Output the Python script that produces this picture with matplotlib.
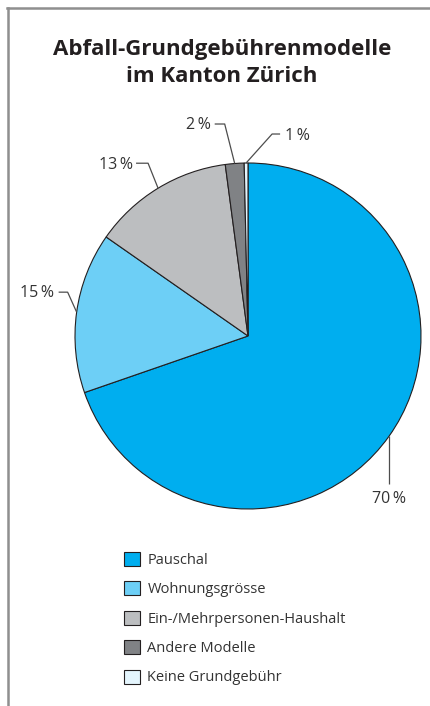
import numpy as np
import matplotlib
matplotlib.use("Agg")
import matplotlib.pyplot as plt
from matplotlib.lines import Line2D

plt.rcParams['font.family'] = ['Open Sans', 'DejaVu Sans']

# ── Data ──────────────────────────────────────────────────────────────────────
categories = ['Pauschal', 'Wohnungsgrösse', 'Ein-/Mehrpersonen-Haushalt',
              'Andere Modelle', 'Keine Grundgebühr']
shares = [69.7, 15.0, 13.2, 1.75, 0.35]
value_labels = ['70\u2009%', '15\u2009%', '13\u2009%', '2\u2009%', '1\u2009%']
colors = ['#00aeef', '#6dcff6', '#bcbec0', '#808285', '#e4f5fd']

title = 'Abfall-Grundgebührenmodelle\nim Kanton Zürich'

# leader line layout, in pixels relative to the wedge edge point (x right, y up)
# (elbow, end, text anchor, ha)
R_PX = 173.0
leaders = [
    ((0, -48), (0, -48), (0, -63), 'center'),
    ((-9, 20), (-18, 20), (-23, 19), 'right'),
    ((-10, 25), (-22, 25), (-25, 23), 'right'),
    ((-10, 39.5), (-20, 39.5), (-24, 38.5), 'right'),
    ((26, 29), (34, 29), (39, 27), 'left'),
]

W, H = 430, 706
fig = plt.figure(figsize=(W / 100, H / 100), dpi=100)

# pie axes: center (248, 336) px, radius 173 px
cx, cy = 248, 336
ax = fig.add_axes([(cx - R_PX) / W, (H - cy - R_PX) / H, 2 * R_PX / W, 2 * R_PX / H])
wedges, _ = ax.pie(shares, colors=colors, startangle=90, counterclock=False,
                   radius=1.0,
                   wedgeprops=dict(edgecolor='#231f20', linewidth=0.8))
ax.set_xlim(-1, 1)
ax.set_ylim(-1, 1)
ax.set_aspect('equal')
ax.axis('off')

for w, lab, (elb, end, txt, ha) in zip(wedges, value_labels, leaders):
    ang = np.deg2rad((w.theta1 + w.theta2) / 2)
    x0, y0 = np.cos(ang), np.sin(ang)
    xs = [x0, x0 + elb[0] / R_PX, x0 + end[0] / R_PX]
    ys = [y0, y0 + elb[1] / R_PX, y0 + end[1] / R_PX]
    ax.plot(xs, ys, color='#4d4d4d', lw=0.9, clip_on=False, solid_capstyle='butt')
    ax.text(x0 + txt[0] / R_PX, y0 + txt[1] / R_PX, lab, ha=ha, va='center',
            fontsize=11.5, color='#333333', clip_on=False)

fig.text(222 / W, 1 - 63 / H, title, ha='center', va='center', fontsize=16,
         fontweight='bold', color='#231f20', linespacing=1.4)

leg = fig.legend(wedges, categories, loc='upper left',
                 bbox_to_anchor=(124 / W, 1 - 552 / H), frameon=False,
                 fontsize=10.5, handlelength=1.1, handleheight=1.1,
                 handletextpad=0.5, labelspacing=0.92, borderpad=0,
                 borderaxespad=0, labelcolor='#333333')

# frame lines (left and top)
fig.add_artist(Line2D([7.5 / W, 7.5 / W], [0, 1 - 8 / H], transform=fig.transFigure,
                      color='#8f8f8f', lw=1.8))
fig.add_artist(Line2D([6.6 / W, 1], [1 - 8 / H, 1 - 8 / H], transform=fig.transFigure,
                      color='#8f8f8f', lw=1.8))

fig.savefig('out.png', dpi=100)
